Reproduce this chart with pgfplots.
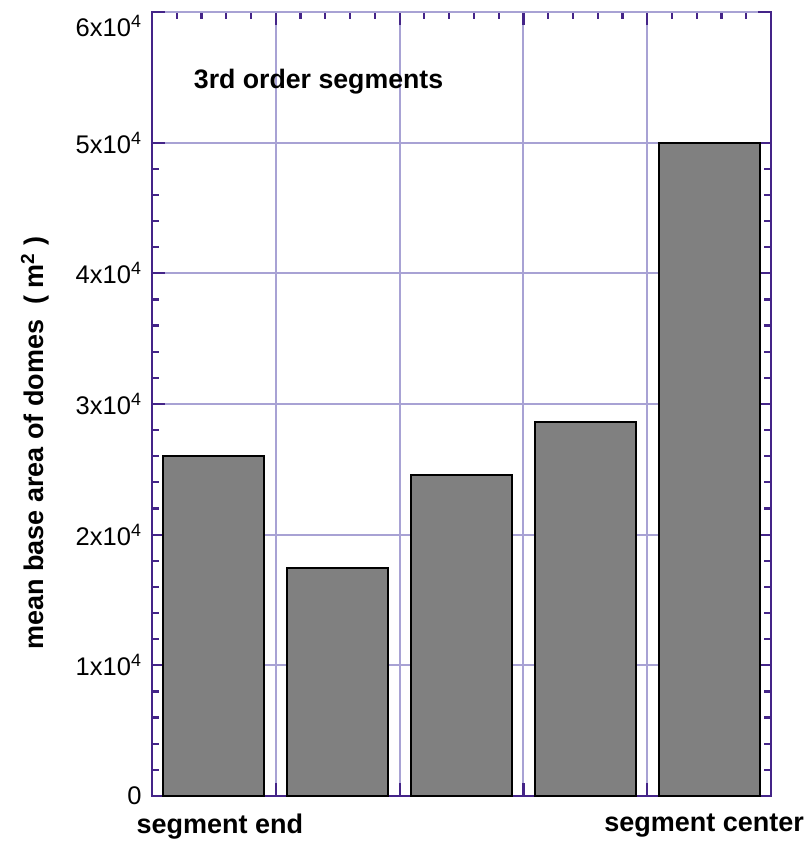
\documentclass[border=0pt]{standalone}
\usepackage{fontspec}
\setmainfont{Liberation Sans}
\usepackage{pgfplots}
\pgfplotsset{compat=1.18}
\definecolor{axcol}{RGB}{68,36,136}
\definecolor{gridcol}{RGB}{168,162,212}
\pgfplotsset{
  layers/mylayers/.define layer set={axis background,axis grid,main,axis ticks,axis lines,axis tick labels,axis descriptions,axis foreground}{},
}
\begin{document}
\begin{tikzpicture}
\begin{axis}[
  set layers=mylayers,
  scale only axis, width=619pt, height=784pt,
  xmin=0.5, xmax=5.5, ymin=0, ymax=60000,
  clip=false,
  axis line style={axcol, line width=2.6pt},
  xtick={0.5,1.5,2.5,3.5,4.5,5.5}, xticklabels={},
  minor x tick num=4,
  ytick={0,10000,20000,30000,40000,50000},
  yticklabels={0,1x10\textsuperscript{4},2x10\textsuperscript{4},3x10\textsuperscript{4},4x10\textsuperscript{4},5x10\textsuperscript{4}},
  minor y tick num=4,
  extra y ticks={60000},
  extra y tick labels={6x10\textsuperscript{4}},
  extra y tick style={yticklabel style={yshift=-14pt}},
  extra x ticks={1.048,4.96},
  extra x tick labels={segment end,segment center},
  extra x tick style={grid=none, major tick length=0pt, xticklabel style={font=\bfseries\fontsize{27}{32}\selectfont, yshift=-14pt}},
  tick align=inside, tick pos=both,
  major tick length=13pt, minor tick length=7pt,
  every tick/.style={axcol, line width=2.2pt},
  grid=major, major grid style={gridcol, line width=2pt},
  yticklabel style={font=\fontsize{25.5}{30}\selectfont, xshift=-7pt},
  scaled y ticks=false,
]
\addplot[ybar, bar width=0.815, fill=black!50, draw=black, line width=2pt]
  coordinates {(1,26000) (2,17450) (3,24550) (4,28600) (5,50000)};
\node[anchor=base west, font=\bfseries\fontsize{26.7}{32}\selectfont] at (rel axis cs:0.062,0.903) {3rd order segments};
\node[rotate=90, anchor=base, font=\bfseries\fontsize{27}{32}\selectfont] at (rel axis cs:-0.176,0.45) {mean base area of domes\ \ ( m\textsuperscript{2} )};
\end{axis}
\pgfresetboundingbox
\path (-152pt,-47pt) rectangle (658pt,796pt);
\end{tikzpicture}
\end{document}
